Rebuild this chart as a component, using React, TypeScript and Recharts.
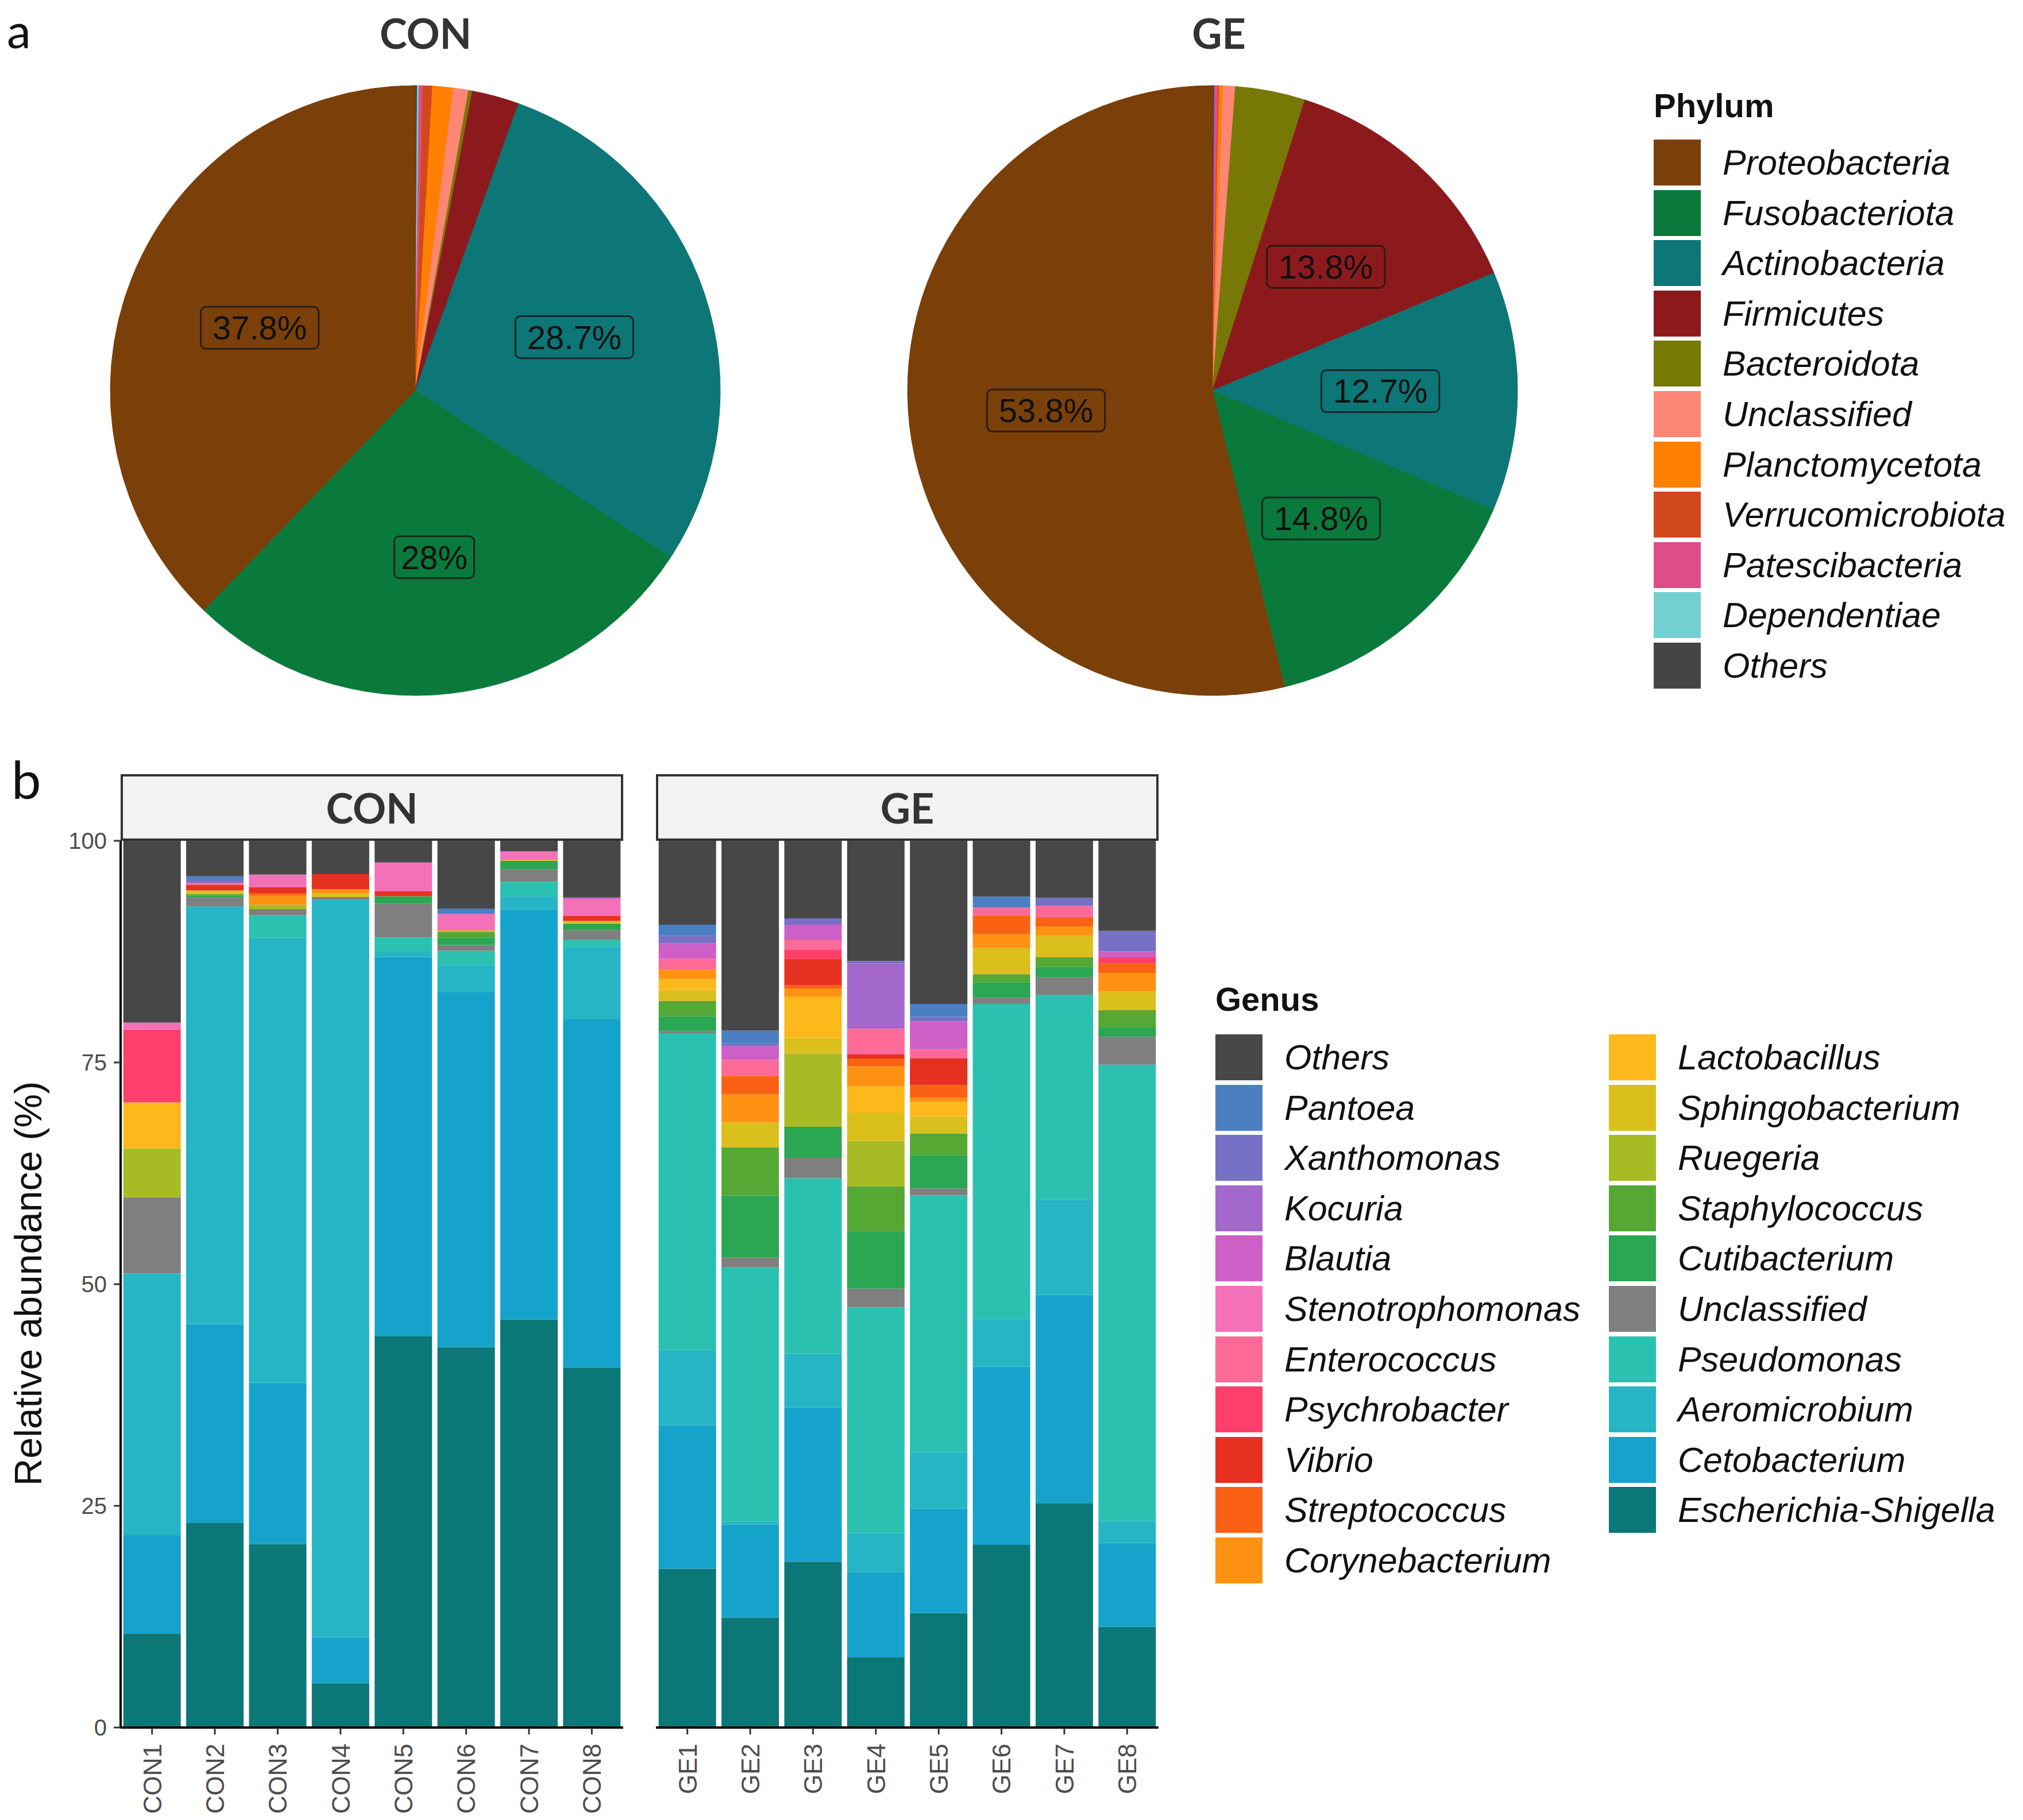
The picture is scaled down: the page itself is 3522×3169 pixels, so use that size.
import { PieChart, Pie, Cell, BarChart, Bar, XAxis, YAxis } from "recharts";

// ---------- panel a: phylum composition ----------
const phyla = [
  "Proteobacteria",
  "Fusobacteriota",
  "Actinobacteria",
  "Firmicutes",
  "Bacteroidota",
  "Unclassified",
  "Planctomycetota",
  "Verrucomicrobiota",
  "Patescibacteria",
  "Dependentiae",
  "Others",
];
const phylumColors = [
  "#7b3f0a", "#0a7a3c", "#0d7676", "#8c1a1c", "#787806", "#fd8674",
  "#ff7f00", "#d2481e", "#de4d88", "#72d0d0", "#454545",
];
const conPhylum = [37.8, 28.0, 28.7, 2.5, 0.2, 0.8, 1.1, 0.5, 0.2, 0.1, 0.1];
const gePhylum = [53.8, 14.8, 12.7, 13.8, 3.7, 0.65, 0.2, 0.05, 0.2, 0, 0.1];

// ---------- panel b: genus composition ----------
// legend order (top of stack first)
const genusLegend = [
  "Others", "Pantoea", "Xanthomonas", "Kocuria", "Blautia", "Stenotrophomonas",
  "Enterococcus", "Psychrobacter", "Vibrio", "Streptococcus", "Corynebacterium",
  "Lactobacillus", "Sphingobacterium", "Ruegeria", "Staphylococcus", "Cutibacterium",
  "Unclassified", "Pseudomonas", "Aeromicrobium", "Cetobacterium", "Escherichia-Shigella",
];
const genusLegendColors = [
  "#474747", "#4c7fc2", "#7670c6", "#a467cb", "#cd5fc6", "#f470b8",
  "#fe6a98", "#fe3f6b", "#e63020", "#fa6114", "#ff9213",
  "#fdb91b", "#dbbf1c", "#a8bb24", "#56a834", "#2ba652",
  "#7f7f7f", "#2bc1b0", "#26b5c5", "#16a3cb", "#0b7877",
];
// stack order, bottom to top
const genera = [...genusLegend].reverse();
const genusColors = [...genusLegendColors].reverse();

const conSamples = ["CON1", "CON2", "CON3", "CON4", "CON5", "CON6", "CON7", "CON8"];
const geSamples = ["GE1", "GE2", "GE3", "GE4", "GE5", "GE6", "GE7", "GE8"];

// values per sample, in stack order (Escherichia-Shigella ... Others)
const CON1 = [10.6, 11.1, 29.5, 0, 8.6, 0, 0, 5.5, 0, 5.2, 0, 0, 0, 8.2, 0, 0.8, 0, 0, 0, 0, 20.5];
const CON2 = [23.1, 22.4, 47.1, 0, 1.0, 0.2, 0.2, 0, 0.4, 0, 0, 0, 0.65, 0, 0.2, 0, 0, 0, 0.35, 0.4, 4.0];
const CON3 = [20.7, 18.2, 50.2, 2.5, 0.7, 0, 0, 0.5, 0, 0, 1.0, 0.3, 0.65, 0, 0, 1.45, 0, 0, 0, 0, 3.8];
const CON4 = [5.0, 5.2, 83.15, 0, 0.3, 0, 0, 0, 0.45, 0, 0.45, 0, 1.7, 0, 0, 0, 0, 0, 0, 0, 3.75];
const CON5 = [44.1, 42.8, 0.6, 1.6, 3.8, 0.85, 0, 0, 0, 0, 0, 0, 0.55, 0, 0, 3.25, 0, 0, 0, 0, 2.45];
const CON6 = [42.9, 40.0, 3.1, 1.6, 0.65, 0.85, 0.65, 0, 0.15, 0, 0, 0, 0, 0, 0, 1.85, 0, 0, 0, 0.6, 7.65];
const CON7 = [46.0, 46.27, 1.5, 1.6, 1.4, 0.97, 0, 0, 0.1, 0, 0, 0, 0, 0, 0, 0.9, 0.1, 0, 0, 0, 1.16];
const CON8 = [40.6, 39.26, 8.2, 0.75, 1.1, 0.75, 0, 0, 0.3, 0, 0, 0, 0.55, 0, 0, 1.9, 0.2, 0, 0, 0, 6.39];

const GE1 = [17.9, 16.2, 8.5, 35.7, 0.25, 1.65, 1.75, 0, 1.25, 1.2, 1.05, 0, 0, 0, 1.25, 0, 1.75, 0, 0.85, 1.25, 9.45];
const GE2 = [12.4, 10.5, 0.3, 28.7, 1.1, 7.0, 5.45, 0, 2.8, 0, 3.15, 2.1, 0, 0, 1.8, 0, 1.55, 0, 0.3, 1.45, 21.4];
const GE3 = [18.7, 17.4, 6.1, 19.75, 2.3, 3.5, 0, 8.25, 1.75, 4.7, 0.9, 0.35, 3.0, 1.05, 1.05, 0, 1.75, 0, 0.7, 0, 8.75];
const GE4 = [7.9, 9.6, 4.4, 25.5, 2.1, 6.5, 5.05, 5.1, 3.15, 3.0, 2.3, 0.85, 0.45, 0, 2.9, 0, 0, 7.35, 0.3, 0, 13.55];
const GE5 = [12.9, 11.8, 6.3, 29.0, 0.8, 3.75, 2.45, 0, 1.95, 1.6, 0.5, 1.4, 3.0, 0, 1.05, 0, 3.15, 0, 0.5, 1.45, 18.4];
const GE6 = [20.6, 20.1, 5.4, 35.5, 0.7, 1.75, 0.9, 0, 2.95, 0, 1.6, 2.1, 0, 0, 0.85, 0, 0, 0, 0, 1.25, 6.3];
const GE7 = [25.3, 23.5, 10.7, 23.15, 1.95, 1.2, 1.05, 0, 2.45, 0, 1.05, 1.05, 0, 0, 1.25, 0, 0, 0, 0.9, 0, 6.45];
const GE8 = [11.35, 9.45, 2.5, 51.45, 3.15, 1.05, 1.95, 0, 2.1, 0, 2.1, 1.05, 0, 0.7, 0, 0, 0.7, 0, 2.3, 0, 10.15];

const conValues = [CON1, CON2, CON3, CON4, CON5, CON6, CON7, CON8];
const geValues = [GE1, GE2, GE3, GE4, GE5, GE6, GE7, GE8];

const yTicks = [0, 25, 50, 75, 100];

// ---------- helpers ----------
const RAD = Math.PI / 180;
const SANS = "'Liberation Sans', Arial, sans-serif";
const TITLE_FONT = "Lato, 'Open Sans', sans-serif";

function pieData(values: number[]) {
  // ggplot pie runs clockwise from 12 o'clock with the last level first
  return phyla
    .map((name, i) => ({ name, value: values[i], color: phylumColors[i] }))
    .reverse();
}

function buildTable(samples: string[], values: number[][]) {
  return samples.map((s, j) => {
    const row: Record<string, any> = { sample: s };
    genera.forEach((g, k) => {
      row[g] = values[j][k];
    });
    return row;
  });
}

function renderPieLabel(props: any) {
  const { cx, cy, midAngle, outerRadius, value } = props;
  if (value < 10) return null;
  const color = props.payload?.color ?? props.color ?? props.fill;
  const r = outerRadius * 0.55;
  const x = cx + r * Math.cos(-midAngle * RAD);
  const y = cy + r * Math.sin(-midAngle * RAD);
  const text = `${+Number(value).toFixed(1)}%`;
  const fs = 58;
  const w = text.length * fs * 0.57 + 40;
  const h = fs * 1.26;
  return (
    <g>
      <rect
        x={x - w / 2}
        y={y - h / 2}
        width={w}
        height={h}
        rx={9}
        fill={color}
        stroke="#1a1a1a"
        strokeOpacity={0.85}
        strokeWidth={3}
      />
      <text
        x={x}
        y={y}
        textAnchor="middle"
        dominantBaseline="central"
        fontSize={fs}
        fill="#111"
        fontFamily={SANS}
      >
        {text}
      </text>
    </g>
  );
}

function SampleTick(props: any) {
  const { x, y, payload } = props;
  return (
    <text
      x={x}
      y={y}
      transform={`rotate(-90 ${x} ${y})`}
      textAnchor="end"
      dx={-14}
      dy="0.36em"
      fontSize={44}
      fill="#4d4d4d"
      fontFamily={SANS}
    >
      {payload.value}
    </text>
  );
}

function LegendBlock({
  names,
  colors,
  left,
  top,
}: {
  names: string[];
  colors: string[];
  left: number;
  top: number;
}) {
  return (
    <>
      {names.map((n, i) => (
        <div
          key={n}
          style={{
            position: "absolute",
            left,
            top: top + i * 87.6,
            height: 80,
            display: "flex",
            alignItems: "center",
            whiteSpace: "nowrap",
          }}
        >
          <div style={{ width: 82, height: 80, background: colors[i] }} />
          <span
            style={{
              marginLeft: 38,
              fontFamily: SANS,
              fontStyle: "italic",
              fontSize: 61,
              color: "#111",
            }}
          >
            {n}
          </span>
        </div>
      ))}
    </>
  );
}

function Strip({ label, left, width }: { label: string; left: number; width: number }) {
  return (
    <div
      style={{
        position: "absolute",
        left,
        top: 1348,
        width,
        height: 116,
        boxSizing: "border-box",
        background: "#f2f2f2",
        border: "4px solid #333",
        display: "flex",
        alignItems: "center",
        justifyContent: "center",
        fontFamily: TITLE_FONT,
        fontWeight: 700,
        fontSize: 72,
        color: "#333",
      }}
    >
      {label}
    </div>
  );
}

const abs = (left: number, top: number): React.CSSProperties => ({
  position: "absolute",
  left,
  top,
});

export default function App() {
  const conTable = buildTable(conSamples, conValues);
  const geTable = buildTable(geSamples, geValues);
  const leftCol = genusLegend.slice(0, 11);
  const rightCol = genusLegend.slice(11);

  const bars = genera.map((g, k) => (
    <Bar
      key={g}
      dataKey={g}
      stackId="a"
      fill={genusColors[k]}
      isAnimationActive={false}
    />
  ));

  return (
    <div
      style={{
        position: "absolute",
        left: 0,
        top: 0,
        width: 3522,
        height: 3169,
        background: "#fff",
        overflow: "hidden",
        fontFamily: SANS,
      }}
    >
      {/* panel letters */}
      <div
        style={{
          ...abs(12, 10),
          fontFamily: TITLE_FONT,
          fontSize: 84,
          lineHeight: "84px",
          color: "#111",
        }}
      >
        a
      </div>
      <div style={{ ...abs(20, 1300), fontFamily: TITLE_FONT, fontSize: 92, color: "#111" }}>b</div>

      {/* pie titles */}
      <div
        style={{
          ...abs(541, 14),
          width: 400,
          textAlign: "center",
          fontFamily: TITLE_FONT,
          fontWeight: 700,
          fontSize: 72,
          color: "#333",
        }}
      >
        CON
      </div>
      <div
        style={{
          ...abs(1922, 14),
          width: 400,
          textAlign: "center",
          fontFamily: TITLE_FONT,
          fontWeight: 700,
          fontSize: 72,
          color: "#333",
        }}
      >
        GE
      </div>

      {/* pies */}
      <div style={abs(0, 0)}>
        <PieChart width={2800} height={1260} margin={{ top: 0, right: 0, bottom: 0, left: 0 }}>
          <Pie
            data={pieData(conPhylum)}
            dataKey="value"
            nameKey="name"
            cx={723}
            cy={680}
            outerRadius={531}
            startAngle={90}
            endAngle={-270}
            label={renderPieLabel}
            labelLine={false}
            isAnimationActive={false}
          >
            {pieData(conPhylum).map((d) => (
              <Cell key={d.name} fill={d.color} stroke={d.color} strokeWidth={1} />
            ))}
          </Pie>
          <Pie
            data={pieData(gePhylum)}
            dataKey="value"
            nameKey="name"
            cx={2111}
            cy={680}
            outerRadius={531}
            startAngle={90}
            endAngle={-270}
            label={renderPieLabel}
            labelLine={false}
            isAnimationActive={false}
          >
            {pieData(gePhylum).map((d) => (
              <Cell key={d.name} fill={d.color} stroke={d.color} strokeWidth={1} />
            ))}
          </Pie>
        </PieChart>
      </div>

      {/* phylum legend */}
      <div
        style={{
          ...abs(2879, 150),
          fontFamily: SANS,
          fontWeight: 700,
          fontSize: 58,
          color: "#111",
        }}
      >
        Phylum
      </div>
      <LegendBlock names={phyla} colors={phylumColors} left={2879} top={243} />

      {/* strips */}
      <Strip label="CON" left={210} width={875} />
      <Strip label="GE" left={1142} width={875} />

      {/* y axis title */}
      <div
        style={{
          ...abs(-451, 2202),
          width: 1000,
          textAlign: "center",
          fontFamily: SANS,
          fontSize: 66,
          lineHeight: "66px",
          color: "#111",
          transform: "rotate(-90deg)",
        }}
      >
        Relative abundance (%)
      </div>

      {/* CON bars */}
      <div style={abs(0, 1300)}>
        <BarChart
          width={1100}
          height={1869}
          data={conTable}
          margin={{ top: 164, right: 15, bottom: 0, left: 0 }}
          barCategoryGap="4.3%"
        >
          <YAxis
            type="number"
            domain={[0, 100]}
            ticks={yTicks}
            width={210}
            axisLine={{ stroke: "#000", strokeWidth: 4 }}
            tickLine={{ stroke: "#333", strokeWidth: 3 }}
            tickSize={12}
            tickMargin={12}
            tick={{ fontSize: 40, fill: "#4d4d4d", fontFamily: SANS }}
          />
          <XAxis
            dataKey="sample"
            interval={0}
            height={161}
            axisLine={{ stroke: "#000", strokeWidth: 4 }}
            tickLine={{ stroke: "#333", strokeWidth: 3 }}
            tickSize={12}
            tick={<SampleTick />}
          />
          {bars}
        </BarChart>
      </div>

      {/* GE bars */}
      <div style={abs(1132, 1300)}>
        <BarChart
          width={900}
          height={1869}
          data={geTable}
          margin={{ top: 164, right: 15, bottom: 0, left: 10 }}
          barCategoryGap="4.3%"
        >
          <YAxis type="number" domain={[0, 100]} ticks={yTicks} hide width={0} />
          <XAxis
            dataKey="sample"
            interval={0}
            height={161}
            axisLine={{ stroke: "#000", strokeWidth: 4 }}
            tickLine={{ stroke: "#333", strokeWidth: 3 }}
            tickSize={12}
            tick={<SampleTick />}
          />
          {bars}
        </BarChart>
      </div>

      {/* genus legend */}
      <div
        style={{
          ...abs(2116, 1706),
          fontFamily: SANS,
          fontWeight: 700,
          fontSize: 58,
          color: "#111",
        }}
      >
        Genus
      </div>
      <LegendBlock
        names={leftCol}
        colors={genusLegendColors.slice(0, 11)}
        left={2116}
        top={1801}
      />
      <LegendBlock
        names={rightCol}
        colors={genusLegendColors.slice(11)}
        left={2801}
        top={1801}
      />
    </div>
  );
}
